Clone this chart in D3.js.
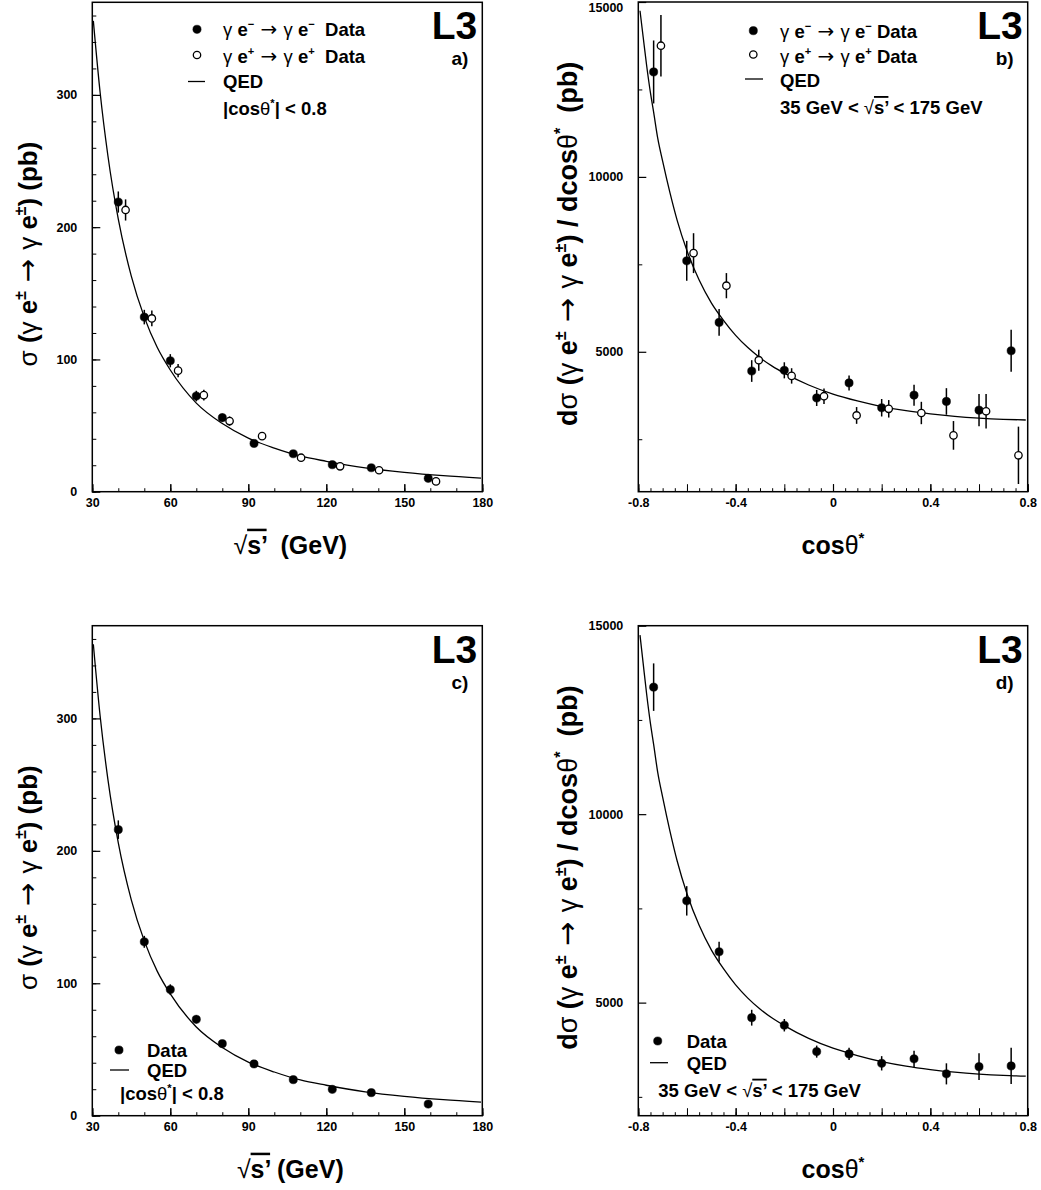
<!DOCTYPE html>
<html>
<head>
<meta charset="utf-8">
<script src="https://cdn.jsdelivr.net/npm/d3@7"></script>
<style>
  body { margin: 0; background: #fff; }
  text { font-family: "Liberation Sans", Arial, sans-serif; white-space: pre; fill: #000; }
</style>
</head>
<body>
<div id="chart"></div>
<script>
// ---- data ----
// sigma vs sqrt(s') : gamma e- (filled), gamma e+ (open), combined (panel c)
var sqrtsEm = [40, 50, 60, 70, 80, 92.2, 107.3, 122.3, 137.3, 159.2];
var sigmaEm = [219, 132, 99, 72.3, 56, 36.5, 28.7, 20.4, 18.1, 10.1];
var sigmaEmErr = [8, 5.5, 5, 4, 3, 2.5, 2, 2, 2, 1.5];

var sqrtsEp = [42.8, 52.9, 63, 72.9, 82.8, 95.3, 110.3, 125.3, 140.3, 162.2];
var sigmaEp = [213, 131, 91.5, 73, 53.4, 42, 25.7, 19.2, 16.2, 7.8];
var sigmaEpErr = [8, 6, 5, 4, 3.5, 2.5, 2, 1.5, 1.5, 1.5];

var sqrtsAll = [40, 50, 60, 70, 80, 92.2, 107.3, 122.3, 137.3, 159.2];
var sigmaAll = [216, 131.3, 95.2, 72.8, 54.4, 39.1, 27.2, 19.9, 17.4, 8.8];
var sigmaAllErr = [7, 4.5, 4, 3, 2.5, 2, 1.5, 1.5, 1.2, 1];

// QED curve, sampled from the drawn line
var qedSqrts = [30.4, 33, 36, 40, 45, 50, 55, 60, 70, 80, 90, 100, 110, 120, 135, 150, 165, 179.5];
var qedSigma = [356, 302, 254, 206, 163, 132, 109, 92, 67, 51.5, 40.5, 33, 27, 23, 18, 14.6, 12.1, 10.3];

// dsigma/dcos(theta*) : gamma e- (filled), gamma e+ (open), combined (panel d)
var cosEm = [-0.737, -0.601, -0.468, -0.334, -0.2, -0.067, 0.066, 0.2, 0.333, 0.466, 0.6, 0.732];
var dsigEm = [13000, 7600, 5840, 4450, 4470, 3680, 4110, 3400, 3760, 3580, 3330, 5030];
var dsigEmErr = [900, 570, 380, 310, 230, 230, 215, 250, 300, 380, 460, 600];

var cosEp = [-0.707, -0.573, -0.438, -0.305, -0.17, -0.037, 0.097, 0.229, 0.363, 0.495, 0.629, 0.762];
var dsigEp = [13750, 7820, 6890, 4760, 4310, 3730, 3180, 3370, 3250, 2610, 3300, 2040];
var dsigEpErr = [880, 570, 360, 300, 220, 220, 240, 250, 320, 410, 490, 820];

var cosAll = [-0.737, -0.601, -0.468, -0.334, -0.2, -0.067, 0.066, 0.2, 0.333, 0.466, 0.6, 0.732];
var dsigAll = [13370, 7700, 6350, 4600, 4400, 3700, 3640, 3390, 3510, 3110, 3300, 3320];
var dsigAllErr = [630, 390, 265, 210, 165, 160, 165, 190, 215, 280, 355, 480];

var qedCos = [-0.793, -0.78, -0.766, -0.75, -0.737, -0.72, -0.7, -0.67, -0.64, -0.6, -0.55, -0.5, -0.45,
  -0.4, -0.35, -0.3, -0.25, -0.2, -0.1, 0, 0.1, 0.2, 0.3, 0.4, 0.5, 0.6, 0.7, 0.792];
var qedDsig = [14750, 14000, 13200, 12400, 11850, 11100, 10450, 9550, 8750, 7890, 7050, 6400, 5900,
  5470, 5120, 4830, 4590, 4390, 4050, 3790, 3595, 3435, 3315, 3225, 3155, 3105, 3070, 3050];

// tick values
var sqrtsTicks = [30, 60, 90, 120, 150, 180];
var sqrtsMinor = d3.range(30, 181, 10);
var sigmaTicks = [0, 100, 200, 300];
var sigmaMinor = d3.range(0, 361, 20);
var cosTicks = [-0.8, -0.4, 0, 0.4, 0.8];
var cosMid = [-0.8, -0.6, -0.4, -0.2, 0, 0.2, 0.4, 0.6, 0.8];
var cosMinor = d3.range(-16, 17).map(d => d * 0.05);
var dsigTicks = [5000, 10000, 15000];
var dsigMinor = [2500, 7500, 12500];

// ---- drawing ----
var svgWidth = 1041;
var svgHeight = 1190;

var svg = d3.select("#chart")
  .append("svg")
  .attr("width", svgWidth)
  .attr("height", svgHeight);

// text built from pieces: n = normal weight (greek), arrow = arrow glyph, sup = superscript
function rich(sel, segs, fs) {
  var shift = 0;
  segs.forEach(function(s) {
    var sup = s.sup ? -fs * 0.42 : 0;
    var t = sel.append("tspan")
      .text(s.t)
      .attr("font-weight", (s.n || s.arrow) ? "normal" : "bold")
      .attr("dy", sup - shift);
    if (s.sup) t.attr("font-size", fs * 0.6);
    if (s.arrow) t.style("font-family", '"DejaVu Sans", sans-serif').attr("font-size", fs * 1.08);
    if (s.over) t.style("text-decoration", "overline");
    shift = sup;
  });
  return sel;
}

var ySigmaLabel = [{t: "\u03c3", n: 1}, {t: " ("}, {t: "\u03b3", n: 1}, {t: " e"}, {t: "\u00b1", sup: 1},
  {t: " \u2192 ", arrow: 1}, {t: "\u03b3", n: 1}, {t: " e"}, {t: "\u00b1", sup: 1}, {t: ") (pb)"}];
var yDsigLabel = [{t: "d"}, {t: "\u03c3", n: 1}, {t: " ("}, {t: "\u03b3", n: 1}, {t: " e"}, {t: "\u00b1", sup: 1},
  {t: " \u2192 ", arrow: 1}, {t: "\u03b3", n: 1}, {t: " e"}, {t: "\u00b1", sup: 1}, {t: ") / dcos"},
  {t: "\u03b8", n: 1}, {t: "*", sup: 1}, {t: "  (pb)"}];
var xCosLabel = [{t: "cos"}, {t: "\u03b8", n: 1}, {t: "*", sup: 1}];

function panel(p) {
  var x = d3.scaleLinear().domain(p.xDomain).range([p.left, p.right]);
  var y = d3.scaleLinear().domain(p.yDomain).range([p.bottom, p.top]);
  var g = svg.append("g");

  function noDomain(a) { a.select(".domain").remove(); }

  // minor ticks (inside the frame)
  g.append("g").attr("transform", `translate(0,${p.bottom})`)
    .call(d3.axisBottom(x).tickValues(p.xMinor).tickSize(-3.5).tickFormat(""))
    .call(noDomain);
  g.append("g").attr("transform", `translate(0,${p.bottom})`)
    .call(d3.axisBottom(x).tickValues(p.xMid).tickSize(-7.5).tickFormat(""))
    .call(noDomain);
  g.append("g").attr("transform", `translate(${p.left},0)`)
    .call(d3.axisLeft(y).tickValues(p.yMinor).tickSize(-4).tickFormat(""))
    .call(noDomain);

  // major ticks with labels
  var xa = g.append("g").attr("transform", `translate(0,${p.bottom})`)
    .call(d3.axisBottom(x).tickValues(p.xTicks).tickSize(-7.5).tickPadding(6).tickFormat(p.xFormat))
    .call(noDomain);
  var ya = g.append("g").attr("transform", `translate(${p.left},0)`)
    .call(d3.axisLeft(y).tickValues(p.yTicks).tickSize(-8).tickPadding(15).tickFormat(d3.format("d")))
    .call(noDomain);
  [xa, ya].forEach(function(a) {
    a.attr("font-family", null).attr("font-size", null);
    a.selectAll("text").attr("font-size", 12.5).attr("font-weight", "bold")
      .style("font-family", '"Liberation Sans", Arial, sans-serif');
    a.selectAll("line").attr("stroke", "#000").attr("stroke-width", 1.2);
  });
  // keep a label sitting on the very top edge readable
  ya.selectAll("text").filter(d => y(d) < 6).attr("dy", "0.75em");

  // frame
  g.append("rect")
    .attr("x", p.left).attr("y", p.top)
    .attr("width", p.right - p.left).attr("height", p.bottom - p.top)
    .attr("fill", "none").attr("stroke", "#000").attr("stroke-width", 1.5);

  // QED curve
  var line = d3.line()
    .x(d => x(d[0]))
    .y(d => y(d[1]))
    .curve(d3.curveMonotoneX);
  g.append("path")
    .datum(d3.zip(p.qedX, p.qedY))
    .attr("d", line)
    .attr("fill", "none").attr("stroke", "#000").attr("stroke-width", 1.3);

  // data series
  p.series.forEach(function(s) {
    var pts = d3.zip(s.x, s.y, s.e);
    var sg = g.append("g");
    sg.selectAll("line.err")
      .data(pts)
      .enter()
      .append("line")
      .attr("class", "err")
      .attr("x1", d => x(d[0])).attr("x2", d => x(d[0]))
      .attr("y1", d => y(d[1] - d[2])).attr("y2", d => y(d[1] + d[2]))
      .attr("stroke", "#000").attr("stroke-width", 1.5);
    sg.selectAll("circle")
      .data(pts)
      .enter()
      .append("circle")
      .attr("cx", d => x(d[0]))
      .attr("cy", d => y(d[1]))
      .attr("r", s.open ? 3.7 : 4.1)
      .attr("fill", s.open ? "#fff" : "#000")
      .attr("stroke", "#000")
      .attr("stroke-width", s.open ? 1.3 : 0.5);
  });

  // L3 tag and panel letter
  g.append("text")
    .attr("x", p.right - 5).attr("y", p.top + 37)
    .attr("text-anchor", "end").attr("font-size", 39).attr("font-weight", "bold")
    .text("L3");
  g.append("text")
    .attr("x", p.right - 14).attr("y", p.top + 63)
    .attr("text-anchor", "end").attr("font-size", 19).attr("font-weight", "bold")
    .text(p.letter);

  // axis titles
  rich(g.append("text")
    .attr("transform", `translate(${p.yTitleX},${(p.top + p.bottom) / 2 + p.yTitleShift}) rotate(-90)`)
    .attr("text-anchor", "middle").attr("font-size", p.yTitleSize), p.yTitle, p.yTitleSize);
  rich(g.append("text")
    .attr("x", (p.left + p.right) / 2 + p.xTitleShift).attr("y", p.bottom + 62)
    .attr("text-anchor", "middle").attr("font-size", 25), p.xTitle, 25);

  return g;
}

function marker(g, cx, cy, open) {
  g.append("circle").attr("cx", cx).attr("cy", cy)
    .attr("r", open ? 3.7 : 4.1)
    .attr("fill", open ? "#fff" : "#000")
    .attr("stroke", "#000").attr("stroke-width", open ? 1.3 : 0.5);
}
function legLine(g, x1, x2, yy) {
  g.append("line").attr("x1", x1).attr("x2", x2).attr("y1", yy).attr("y2", yy)
    .attr("stroke", "#000").attr("stroke-width", 1.3);
}
function legText(g, x0, y0, segs) {
  rich(g.append("text").attr("x", x0).attr("y", y0).attr("font-size", 18.5), segs, 18.5);
}

var fmtCos = d => d === 0 ? "0" : d.toFixed(1);

// a) sigma, e- and e+ separately
var pa = panel({
  left: 92.3, right: 482.3, top: 2.3, bottom: 491.7,
  xDomain: [30, 180], yDomain: [0, 370],
  xTicks: sqrtsTicks, xMid: sqrtsTicks, xMinor: sqrtsMinor, xFormat: d3.format("d"),
  yTicks: sigmaTicks, yMinor: sigmaMinor,
  qedX: qedSqrts, qedY: qedSigma,
  series: [
    {x: sqrtsEm, y: sigmaEm, e: sigmaEmErr, open: false},
    {x: sqrtsEp, y: sigmaEp, e: sigmaEpErr, open: true}
  ],
  letter: "a)",
  yTitle: ySigmaLabel, yTitleX: 37, yTitleShift: 7, yTitleSize: 26,
  xTitle: [{t: "\u221a", n: 1}, {t: "s\u2019", over: 1}, {t: "  (GeV)"}], xTitleShift: 3
});
marker(pa, 197, 29.3, false);
marker(pa, 197, 55, true);
legLine(pa, 188, 205, 81.5);
legText(pa, 223, 36, [{t: "\u03b3", n: 1}, {t: " e"}, {t: "\u2212", sup: 1}, {t: " \u2192 ", arrow: 1},
  {t: "\u03b3", n: 1}, {t: " e"}, {t: "\u2212", sup: 1}, {t: "  Data"}]);
legText(pa, 223, 63, [{t: "\u03b3", n: 1}, {t: " e"}, {t: "+", sup: 1}, {t: " \u2192 ", arrow: 1},
  {t: "\u03b3", n: 1}, {t: " e"}, {t: "+", sup: 1}, {t: "  Data"}]);
legText(pa, 223, 88, [{t: "QED"}]);
legText(pa, 223, 115, [{t: "|cos"}, {t: "\u03b8", n: 1}, {t: "*", sup: 1}, {t: "| < 0.8"}]);

// b) dsigma/dcos, e- and e+ separately
var pb = panel({
  left: 638.3, right: 1027.7, top: 2, bottom: 491.7,
  xDomain: [-0.8, 0.8], yDomain: [1000, 15000],
  xTicks: cosTicks, xMid: cosMid, xMinor: cosMinor, xFormat: fmtCos,
  yTicks: dsigTicks, yMinor: dsigMinor,
  qedX: qedCos, qedY: qedDsig,
  series: [
    {x: cosEm, y: dsigEm, e: dsigEmErr, open: false},
    {x: cosEp, y: dsigEp, e: dsigEpErr, open: true}
  ],
  letter: "b)",
  yTitle: yDsigLabel, yTitleX: 577, yTitleShift: -3, yTitleSize: 27,
  xTitle: xCosLabel, xTitleShift: 0
});
marker(pb, 753.3, 30.7, false);
marker(pb, 753.3, 54.5, true);
legLine(pb, 745, 763, 79);
legText(pb, 780, 38, [{t: "\u03b3", n: 1}, {t: " e"}, {t: "\u2212", sup: 1}, {t: " \u2192 ", arrow: 1},
  {t: "\u03b3", n: 1}, {t: " e"}, {t: "\u2212", sup: 1}, {t: " Data"}]);
legText(pb, 780, 62.5, [{t: "\u03b3", n: 1}, {t: " e"}, {t: "+", sup: 1}, {t: " \u2192 ", arrow: 1},
  {t: "\u03b3", n: 1}, {t: " e"}, {t: "+", sup: 1}, {t: " Data"}]);
legText(pb, 780, 87, [{t: "QED"}]);
legText(pb, 780, 114, [{t: "35 GeV < "}, {t: "\u221a", n: 1}, {t: "s\u2019", over: 1}, {t: " < 175 GeV"}]);

// c) sigma, combined
var pc = panel({
  left: 92.3, right: 482.3, top: 625.7, bottom: 1115.7,
  xDomain: [30, 180], yDomain: [0, 370],
  xTicks: sqrtsTicks, xMid: sqrtsTicks, xMinor: sqrtsMinor, xFormat: d3.format("d"),
  yTicks: sigmaTicks, yMinor: sigmaMinor,
  qedX: qedSqrts, qedY: qedSigma,
  series: [{x: sqrtsAll, y: sigmaAll, e: sigmaAllErr, open: false}],
  letter: "c)",
  yTitle: ySigmaLabel, yTitleX: 37, yTitleShift: 7, yTitleSize: 26,
  xTitle: [{t: "\u221a", n: 1}, {t: "s\u2019", over: 1}, {t: " (GeV)"}], xTitleShift: 3
});
marker(pc, 119, 1050, false);
legLine(pc, 110, 129, 1070);
legText(pc, 147, 1056.5, [{t: "Data"}]);
legText(pc, 147, 1076.5, [{t: "QED"}]);
legText(pc, 120, 1100, [{t: "|cos"}, {t: "\u03b8", n: 1}, {t: "*", sup: 1}, {t: "| < 0.8"}]);

// d) dsigma/dcos, combined
var pd = panel({
  left: 638.3, right: 1027.7, top: 625.7, bottom: 1115.7,
  xDomain: [-0.8, 0.8], yDomain: [2000, 15000],
  xTicks: cosTicks, xMid: cosMid, xMinor: cosMinor, xFormat: fmtCos,
  yTicks: dsigTicks, yMinor: dsigMinor,
  qedX: qedCos, qedY: qedDsig,
  series: [{x: cosAll, y: dsigAll, e: dsigAllErr, open: false}],
  letter: "d)",
  yTitle: yDsigLabel, yTitleX: 577, yTitleShift: -3, yTitleSize: 27,
  xTitle: xCosLabel, xTitleShift: 0
});
marker(pd, 657.7, 1041, false);
legLine(pd, 650, 668, 1062.7);
legText(pd, 686.7, 1047.7, [{t: "Data"}]);
legText(pd, 686.7, 1070, [{t: "QED"}]);
legText(pd, 658.3, 1096.7, [{t: "35 GeV < "}, {t: "\u221a", n: 1}, {t: "s\u2019", over: 1}, {t: " < 175 GeV"}]);
</script>
</body>
</html>
